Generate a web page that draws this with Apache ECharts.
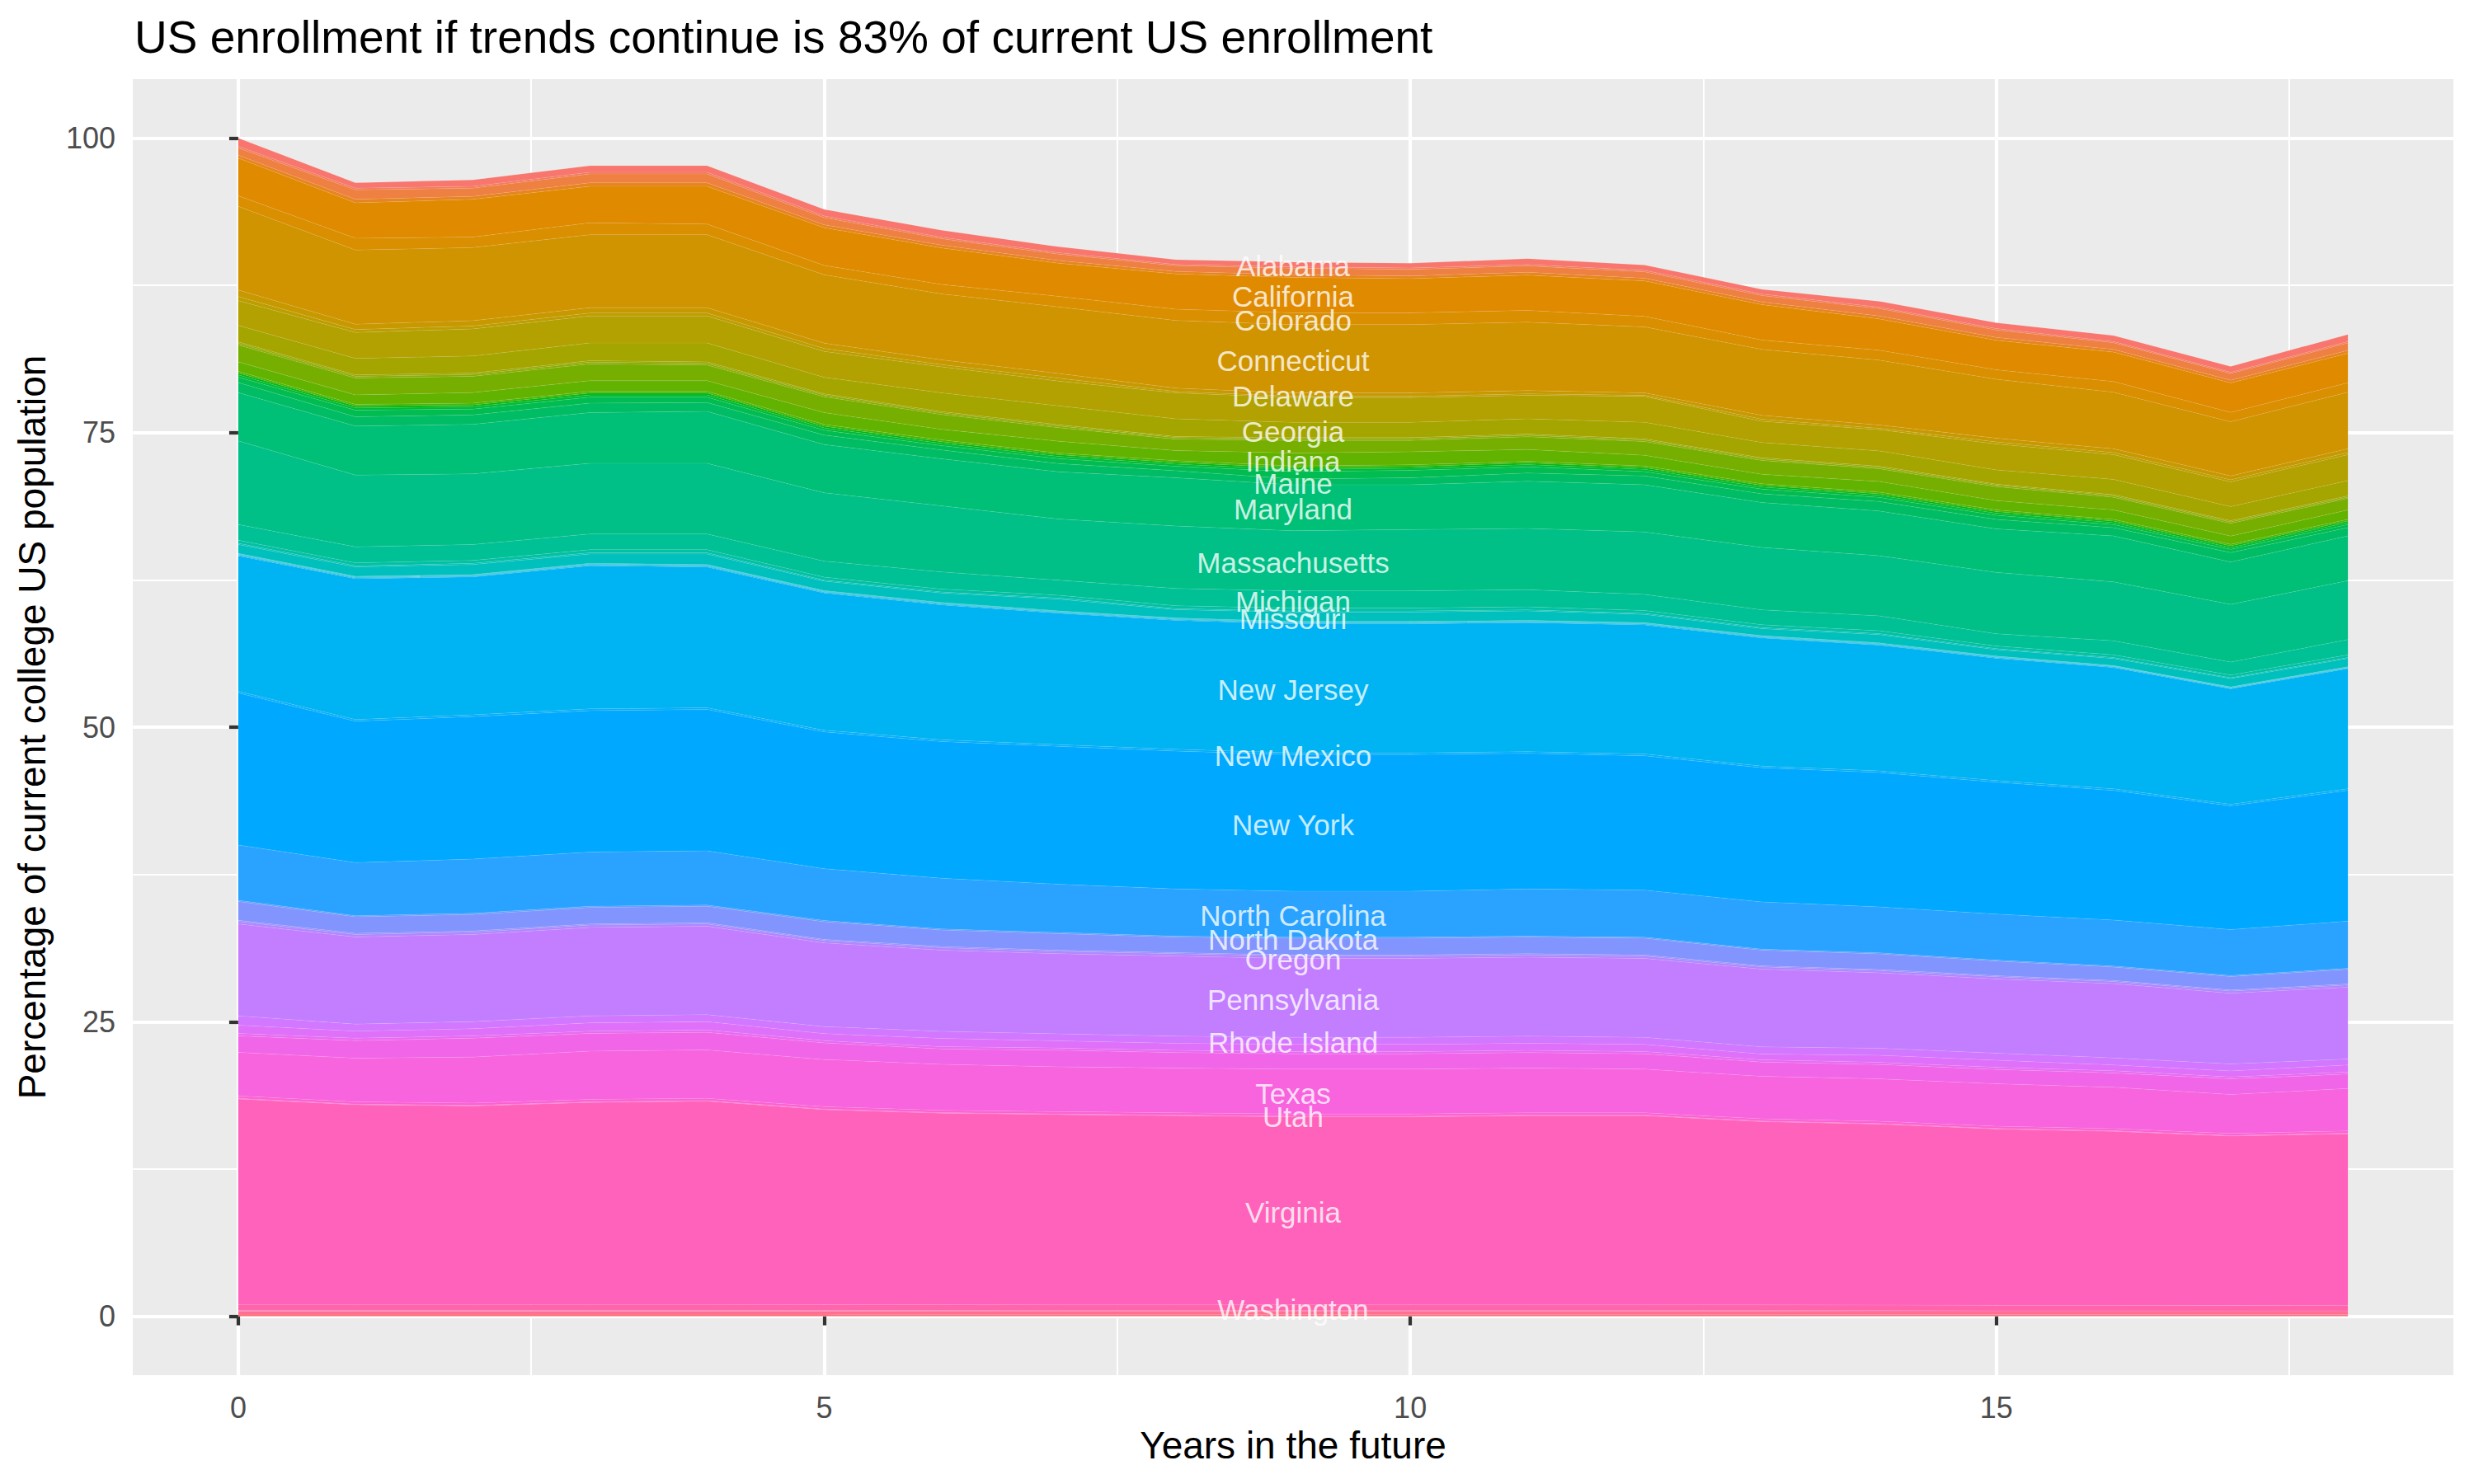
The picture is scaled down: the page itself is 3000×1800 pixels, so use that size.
<!DOCTYPE html>
<html>
<head>
<meta charset="utf-8">
<script src="https://cdn.jsdelivr.net/npm/echarts@6/dist/echarts.min.js"></script>
<style>
html,body{margin:0;padding:0;background:#fff;}
#chart{width:3000px;height:1800px;}
</style>
</head>
<body>
<div id="chart"></div>
<script>
// ---------- DATA ----------
const years = [0,1,2,3,4,5,6,7,8,9,10,11,12,13,14,15,16,17,18];

const Alabama       = [0.7,0.45,0.55,0.55,0.55,0.55,0.6,0.5,0.4,0.4,0.4,0.5,0.45,0.4,0.5,0.5,0.5,0.5,0.6];
const Alaska        = [0.15,0.15,0.15,0.15,0.15,0.15,0.12,0.12,0.1,0.12,0.12,0.12,0.12,0.12,0.12,0.12,0.1,0.1,0.12];
const Arizona       = [0.6,0.8,0.7,0.75,0.75,0.6,0.55,0.55,0.5,0.55,0.55,0.55,0.55,0.55,0.63,0.63,0.57,0.57,0.63];
const Arkansas      = [0.25,0.3,0.25,0.3,0.3,0.25,0.23,0.23,0.2,0.23,0.23,0.23,0.23,0.23,0.25,0.25,0.23,0.23,0.25];
const California    = [3.2,3.0,3.2,3.1,3.2,3.2,3.1,2.8,3.0,3.0,2.9,3.0,3.0,3.0,2.65,2.5,2.5,2.5,2.5];
const Colorado      = [0.9,1.0,0.9,1.0,0.9,0.8,0.8,0.9,0.95,1.0,1.0,1.0,0.9,0.8,0.85,0.8,0.9,0.8,0.8];
const Connecticut   = [7.1,6.3,6.2,6.2,6.2,5.8,5.6,5.65,5.75,5.8,5.8,5.8,5.6,5.6,5.5,5.0,4.8,4.6,4.8];
const Delaware      = [0.55,0.45,0.45,0.45,0.45,0.45,0.4,0.4,0.28,0.28,0.28,0.28,0.2,0.32,0.28,0.32,0.32,0.32,0.32];
const DistrictOfColumbia = [0.35,0.25,0.25,0.25,0.25,0.25,0.2,0.25,0.12,0.12,0.12,0.12,0.1,0.18,0.12,0.18,0.18,0.18,0.18];
const Florida       = [2.1,2.2,2.3,2.3,2.3,2.2,2.2,2.1,2.2,2.1,2.1,2.0,2.2,1.8,1.8,2.2,2.1,2.1,2.2];
const Georgia       = [1.4,1.4,1.45,1.5,1.6,1.4,1.6,1.6,1.5,1.3,1.3,1.3,1.4,1.3,1.3,1.2,1.3,1.2,1.3];
const Hawaii        = [0.12,0.12,0.12,0.12,0.12,0.11,0.11,0.11,0.1,0.1,0.1,0.1,0.1,0.1,0.1,0.1,0.1,0.1,0.1];
const Idaho         = [0.15,0.15,0.15,0.15,0.15,0.14,0.14,0.14,0.13,0.13,0.13,0.13,0.13,0.13,0.12,0.12,0.12,0.12,0.12];
const Illinois      = [1.43,1.43,1.38,1.43,1.33,1.35,1.25,1.15,0.97,1.07,0.97,1.07,1.17,1.17,1.08,1.18,1.08,1.08,0.98];
const Indiana       = [0.8,0.8,0.9,0.9,0.9,1.0,0.9,1.0,0.85,1.1,1.1,1.0,0.9,0.8,0.9,0.8,0.8,0.7,0.8];
const Iowa          = [0.15,0.15,0.15,0.15,0.15,0.15,0.15,0.15,0.15,0.15,0.15,0.15,0.15,0.14,0.14,0.14,0.14,0.13,0.13];
const Kansas        = [0.15,0.15,0.15,0.15,0.15,0.14,0.14,0.14,0.14,0.14,0.14,0.14,0.14,0.14,0.13,0.13,0.13,0.13,0.13];
const Kentucky      = [0.2,0.2,0.2,0.2,0.2,0.2,0.19,0.19,0.19,0.19,0.19,0.19,0.19,0.18,0.18,0.18,0.17,0.17,0.17];
const Louisiana     = [0.45,0.55,0.5,0.5,0.45,0.41,0.37,0.42,0.37,0.62,0.62,0.52,0.37,0.39,0.35,0.35,0.26,0.27,0.27];
const Maine         = [0.85,0.8,0.8,0.8,0.75,0.8,0.75,0.7,0.6,0.5,0.6,0.7,0.75,0.75,0.8,0.8,0.7,0.8,0.7];
const Maryland      = [4.1,4.15,4.2,4.3,4.4,4.1,4.0,4.0,4.1,3.9,3.8,4.0,4.0,3.8,3.8,3.7,3.9,3.6,3.8];
const Massachusetts = [7.1,6.1,6.0,6.0,6.0,5.8,5.6,5.2,5.3,5.1,5.2,5.2,5.3,5.3,5.1,5.2,5.0,4.9,5.0];
const Michigan      = [1.34,1.35,1.35,1.34,1.34,1.36,1.46,1.27,1.46,1.46,1.46,1.46,1.37,1.27,1.27,1.04,1.19,1.1,1.29];
const Minnesota     = [0.26,0.25,0.25,0.26,0.26,0.25,0.25,0.24,0.25,0.25,0.25,0.25,0.24,0.24,0.24,0.23,0.23,0.22,0.23];
const Mississippi   = [0.1,0.1,0.1,0.1,0.1,0.09,0.09,0.09,0.09,0.09,0.09,0.09,0.09,0.09,0.09,0.08,0.08,0.08,0.08];
const Missouri      = [0.75,0.8,0.85,0.8,0.9,0.8,0.8,1.0,0.7,0.8,0.8,0.8,0.7,0.6,0.7,0.55,0.6,0.7,0.7];
const Montana       = [0.04,0.04,0.04,0.04,0.04,0.04,0.04,0.04,0.04,0.04,0.04,0.04,0.03,0.03,0.03,0.03,0.03,0.03,0.03];
const Nebraska      = [0.05,0.05,0.05,0.05,0.05,0.05,0.05,0.05,0.05,0.05,0.05,0.05,0.05,0.05,0.05,0.05,0.04,0.04,0.04];
const Nevada        = [0.05,0.05,0.05,0.05,0.05,0.05,0.05,0.05,0.05,0.05,0.05,0.05,0.05,0.05,0.05,0.04,0.04,0.04,0.04];
const NewHampshire  = [0.07,0.06,0.06,0.07,0.07,0.06,0.06,0.06,0.06,0.06,0.06,0.06,0.06,0.06,0.06,0.06,0.06,0.05,0.06];
const NewJersey     = [11.49,11.95,11.7,12.14,11.94,11.65,11.45,11.15,10.95,10.95,10.95,10.95,10.96,10.87,10.67,10.38,10.29,9.81,10.19];
const NewMexico     = [0.15,0.15,0.15,0.15,0.15,0.15,0.15,0.15,0.15,0.15,0.15,0.15,0.15,0.14,0.14,0.14,0.14,0.13,0.14];
const NewYork       = [12.9,12.0,12.1,12.0,12.0,11.6,11.6,11.7,11.7,11.6,11.6,11.5,11.4,11.4,11.4,11.2,11.0,10.5,11.1];
const NorthCarolina = [4.7,4.5,4.6,4.6,4.6,4.4,4.3,4.1,4.0,3.9,3.9,4.0,4.0,4.0,3.9,3.9,3.9,3.9,4.0];
const NorthDakota   = [0.1,0.1,0.1,0.1,0.1,0.1,0.1,0.1,0.09,0.09,0.09,0.09,0.09,0.09,0.09,0.09,0.09,0.08,0.09];
const Ohio          = [1.6,1.4,1.4,1.4,1.4,1.5,1.4,1.4,1.31,1.41,1.41,1.41,1.41,1.33,1.33,1.23,1.14,1.15,1.24];
const Oklahoma      = [0.1,0.1,0.1,0.1,0.1,0.1,0.1,0.1,0.1,0.1,0.1,0.1,0.1,0.09,0.09,0.09,0.09,0.09,0.09];
const Oregon        = [0.2,0.2,0.2,0.2,0.2,0.2,0.2,0.2,0.2,0.2,0.2,0.2,0.2,0.19,0.19,0.19,0.18,0.18,0.18];
const Pennsylvania  = [7.8,7.4,7.4,7.5,7.5,7.1,6.9,6.8,6.8,6.7,6.7,6.7,6.7,6.6,6.4,6.3,6.3,6.0,6.1];
const RhodeIsland   = [0.8,0.6,0.6,0.6,0.6,0.6,0.6,0.6,0.6,0.6,0.6,0.6,0.6,0.6,0.6,0.6,0.6,0.6,0.5];
const SouthCarolina = [0.7,0.6,0.6,0.7,0.7,0.6,0.7,0.6,0.6,0.6,0.6,0.6,0.6,0.5,0.6,0.6,0.5,0.5,0.6];
const SouthDakota   = [0.2,0.2,0.2,0.2,0.2,0.19,0.19,0.19,0.19,0.19,0.19,0.19,0.19,0.18,0.18,0.18,0.18,0.17,0.18];
const Tennessee     = [1.4,1.5,1.6,1.5,1.5,1.41,1.31,1.41,1.31,1.31,1.31,1.31,1.31,1.22,1.22,1.22,1.22,1.33,1.22];
const Texas         = [3.7,3.7,3.9,4.1,4.1,4.0,3.9,3.8,3.8,3.8,3.8,3.8,3.7,3.6,3.6,3.6,3.5,3.3,3.6];
const Utah          = [0.2,0.2,0.2,0.2,0.2,0.2,0.2,0.2,0.2,0.2,0.2,0.2,0.2,0.19,0.19,0.19,0.19,0.18,0.19];
const Vermont       = [0.06,0.05,0.05,0.05,0.05,0.05,0.05,0.05,0.05,0.05,0.05,0.05,0.05,0.05,0.05,0.05,0.05,0.04,0.05];
const Virginia      = [17.44,16.95,16.85,17.15,17.25,16.55,16.25,16.15,16.05,15.95,15.95,16.05,16.05,15.56,15.36,14.96,14.76,14.38,14.56];
const Washington    = [0.5,0.5,0.5,0.5,0.5,0.49,0.49,0.49,0.49,0.49,0.49,0.49,0.49,0.48,0.48,0.48,0.48,0.47,0.48];
const WestVirginia  = [0.08,0.08,0.08,0.08,0.08,0.08,0.08,0.08,0.08,0.08,0.08,0.08,0.08,0.08,0.08,0.07,0.07,0.07,0.07];
const Wisconsin     = [0.25,0.25,0.25,0.25,0.25,0.25,0.25,0.24,0.24,0.24,0.24,0.24,0.24,0.24,0.24,0.23,0.23,0.23,0.23];
const Wyoming       = [0.17,0.17,0.17,0.17,0.17,0.17,0.16,0.16,0.16,0.16,0.16,0.16,0.16,0.16,0.15,0.15,0.15,0.15,0.15];

const stateNames = ['Alabama','Alaska','Arizona','Arkansas','California','Colorado','Connecticut','Delaware',
  'District of Columbia','Florida','Georgia','Hawaii','Idaho','Illinois','Indiana','Iowa','Kansas','Kentucky',
  'Louisiana','Maine','Maryland','Massachusetts','Michigan','Minnesota','Mississippi','Missouri','Montana',
  'Nebraska','Nevada','New Hampshire','New Jersey','New Mexico','New York','North Carolina','North Dakota',
  'Ohio','Oklahoma','Oregon','Pennsylvania','Rhode Island','South Carolina','South Dakota','Tennessee','Texas',
  'Utah','Vermont','Virginia','Washington','West Virginia','Wisconsin','Wyoming'];
const stateValues = [Alabama,Alaska,Arizona,Arkansas,California,Colorado,Connecticut,Delaware,
  DistrictOfColumbia,Florida,Georgia,Hawaii,Idaho,Illinois,Indiana,Iowa,Kansas,Kentucky,
  Louisiana,Maine,Maryland,Massachusetts,Michigan,Minnesota,Mississippi,Missouri,Montana,
  Nebraska,Nevada,NewHampshire,NewJersey,NewMexico,NewYork,NorthCarolina,NorthDakota,
  Ohio,Oklahoma,Oregon,Pennsylvania,RhodeIsland,SouthCarolina,SouthDakota,Tennessee,Texas,
  Utah,Vermont,Virginia,Washington,WestVirginia,Wisconsin,Wyoming];

// states whose names are printed inside the chart, at this year
const labeledStates = ['Alabama','California','Colorado','Connecticut','Delaware','Georgia','Indiana','Maine',
  'Maryland','Massachusetts','Michigan','Missouri','New Jersey','New Mexico','New York','North Carolina',
  'North Dakota','Oregon','Pennsylvania','Rhode Island','Texas','Utah','Virginia','Washington'];
const labelYear = 9;

const xTicks = [0,5,10,15];
const xMinor = [2.5,7.5,12.5,17.5];
const yTicks = [0,25,50,75,100];
const yMinor = [12.5,37.5,62.5,87.5];

// ---------- ggplot2 default hue palette (hcl, c=100, l=65) ----------
function hclHex(h, c, l) {
  const hr = h * Math.PI / 180;
  const U = c * Math.cos(hr), V = c * Math.sin(hr);
  const Xn = 95.047, Yn = 100.0, Zn = 108.883;
  const Y = l > 8 ? Yn * Math.pow((l + 16) / 116, 3) : Yn * l / 903.3;
  const d = Xn + 15 * Yn + 3 * Zn;
  const un = 4 * Xn / d, vn = 9 * Yn / d;
  const u = U / (13 * l) + un, v = V / (13 * l) + vn;
  const X = 9 * Y * u / (4 * v);
  const Z = Y * (12 - 3 * u - 20 * v) / (4 * v);
  const x = X / 100, y = Y / 100, z = Z / 100;
  let r = 3.2404542 * x - 1.5371385 * y - 0.4985314 * z;
  let g = -0.9692660 * x + 1.8760108 * y + 0.0415560 * z;
  let b = 0.0556434 * x - 0.2040259 * y + 1.0572252 * z;
  const gam = t => { t = t <= 0.0031308 ? 12.92 * t : 1.055 * Math.pow(t, 1 / 2.4) - 0.055; return Math.round(Math.min(1, Math.max(0, t)) * 255); };
  return '#' + [gam(r), gam(g), gam(b)].map(n => n.toString(16).padStart(2, '0')).join('');
}
const n = stateNames.length;
const colors = stateNames.map((s, i) => hclHex(15 + i * 360 / n, 100, 65));

const FONT = 'Liberation Sans, Arial, Helvetica, sans-serif';

// ---------- series: first level on top (stack bottom-up from last) ----------
// rows are [value, year]; the value (dimension 0) is the one ECharts stacks
const series = [];
for (let i = n - 1; i >= 0; i--) {
  series.push({
    name: stateNames[i],
    type: 'line',
    stack: 'total',
    symbol: 'none',
    showSymbol: false,
    silent: true,
    dimensions: ['share', 'year'],
    encode: { x: 'year', y: 'share' },
    data: years.map((x, j) => [stateValues[i][j], x]),
    lineStyle: { width: 0.8, color: 'rgba(255,255,255,0.13)' },
    areaStyle: { color: colors[i], opacity: 1 },
    z: 2
  });
}

// label positions: middle of each band at labelYear, from the stacked data
const yi = years.indexOf(labelYear);
const labelData = labeledStates.map(name => {
  const k = stateNames.indexOf(name);
  let below = 0;
  for (let m = k + 1; m < n; m++) below += stateValues[m][yi];
  return { name: name, value: [labelYear, below + stateValues[k][yi] / 2] };
});
series.push({
  type: 'scatter',
  silent: true,
  symbol: 'circle',
  symbolSize: 2,
  itemStyle: { color: 'rgba(0,0,0,0)' },
  data: labelData,
  label: {
    show: true,
    position: [1, 3],
    align: 'center',
    verticalAlign: 'middle',
    formatter: p => p.name,
    color: '#ffffff',
    fontSize: 35,
    fontFamily: FONT
  },
  labelLayout: { hideOverlap: false },
  z: 10
});

const chart = echarts.init(document.getElementById('chart'), null, { renderer: 'svg' });
chart.setOption({
  animation: false,
  backgroundColor: '#ffffff',
  title: {
    text: 'US enrollment if trends continue is 83% of current US enrollment',
    left: 158,
    top: 12,
    textStyle: { fontSize: 55, fontWeight: 'normal', color: '#000000', fontFamily: FONT }
  },
  grid: {
    left: 161, right: 25, top: 96, bottom: 132,
    show: true, backgroundColor: '#EBEBEB', borderWidth: 0,
    outerBoundsMode: 'none'
  },
  xAxis: [{
    type: 'value', min: -0.9, max: 18.9,
    axisLine: { show: false },
    axisTick: { show: true, customValues: xTicks, length: 11, lineStyle: { color: '#333333', width: 4.2 } },
    axisLabel: { customValues: xTicks, color: '#4D4D4D', fontSize: 36, margin: 21, fontFamily: FONT },
    splitLine: { show: true, lineStyle: { color: '#ffffff', width: 4.2 } },
    name: 'Years in the future', nameLocation: 'middle', nameGap: 57,
    nameTextStyle: { fontSize: 46, color: '#000000', fontFamily: FONT }
  }, {
    type: 'value', min: -0.9, max: 18.9, position: 'bottom',
    axisLine: { show: false },
    axisTick: { show: false, customValues: xMinor },
    axisLabel: { show: false, customValues: xMinor },
    splitLine: { show: true, lineStyle: { color: '#ffffff', width: 2.1 } }
  }],
  yAxis: [{
    type: 'value', min: -5, max: 105,
    axisLine: { show: false },
    axisTick: { show: true, customValues: yTicks, length: 11, lineStyle: { color: '#333333', width: 4.2 } },
    axisLabel: { customValues: yTicks, color: '#4D4D4D', fontSize: 36, margin: 21, fontFamily: FONT },
    splitLine: { show: true, lineStyle: { color: '#ffffff', width: 4.2 } },
    name: 'Percentage of current college US population', nameLocation: 'middle', nameGap: 99,
    nameTextStyle: { fontSize: 46, color: '#000000', fontFamily: FONT }
  }, {
    type: 'value', min: -5, max: 105, position: 'left',
    axisLine: { show: false },
    axisTick: { show: false, customValues: yMinor },
    axisLabel: { show: false, customValues: yMinor },
    splitLine: { show: true, lineStyle: { color: '#ffffff', width: 2.1 } }
  }],
  series: series
});
</script>
</body>
</html>
